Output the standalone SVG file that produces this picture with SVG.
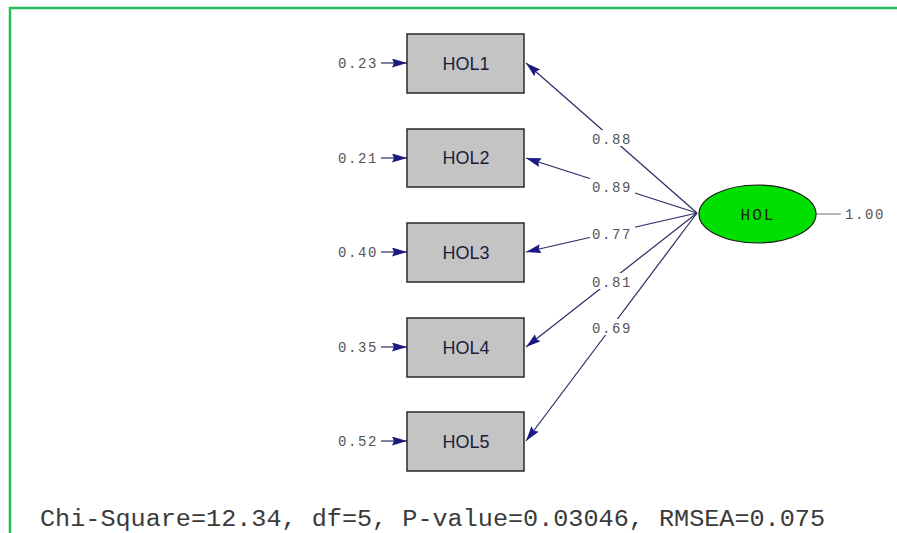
<svg xmlns="http://www.w3.org/2000/svg" width="897" height="533" viewBox="0 0 897 533">
<style>
.box{fill:#c4c4c4;stroke:#2a2a2a;stroke-width:1.5}
.bt{font-family:"Liberation Sans",Arial,sans-serif;font-size:18px;fill:#1c1c3c;text-anchor:middle}
.mono{font-family:"Liberation Mono","Courier New",monospace;fill:#555;}
.sm{font-size:14px;letter-spacing:1.6px}
.ln{stroke:#2a2a66;stroke-width:1.2;fill:none}
.lab{fill:#fff}
</style>
<defs>
<marker id="ah" markerUnits="userSpaceOnUse" markerWidth="16" markerHeight="10" refX="15" refY="4.5" orient="auto">
<path d="M0,0 L15,4.5 L0,9 L2,4.5 z" fill="#1a1a80"/>
</marker>
</defs>
<rect width="897" height="533" fill="#fff"/>
<path d="M10,533 V8 H897" fill="none" stroke="#1fbf5a" stroke-width="2.5"/>

<g id="connectors">
<line class="ln" x1="697" y1="213" x2="526" y2="63" marker-end="url(#ah)"/>
<line class="ln" x1="697" y1="213" x2="526" y2="158" marker-end="url(#ah)"/>
<line class="ln" x1="697" y1="213" x2="526" y2="252" marker-end="url(#ah)"/>
<line class="ln" x1="697" y1="213" x2="526" y2="347" marker-end="url(#ah)"/>
<line class="ln" x1="697" y1="213" x2="526" y2="441" marker-end="url(#ah)"/>
<line class="ln" x1="381" y1="63" x2="407" y2="63" marker-end="url(#ah)"/>
<line class="ln" x1="381" y1="158" x2="407" y2="158" marker-end="url(#ah)"/>
<line class="ln" x1="381" y1="252" x2="407" y2="252" marker-end="url(#ah)"/>
<line class="ln" x1="381" y1="347" x2="407" y2="347" marker-end="url(#ah)"/>
<line class="ln" x1="381" y1="441" x2="407" y2="441" marker-end="url(#ah)"/>
<line class="ln" x1="816" y1="214" x2="841" y2="214" style="stroke:#888"/>
<g class="mono sm" text-anchor="middle">
<rect class="lab" x="590" y="130" width="45" height="16"/>
<text x="612" y="144">0.88</text>
<rect class="lab" x="590" y="178" width="45" height="16"/>
<text x="612" y="192">0.89</text>
<rect class="lab" x="590" y="225" width="45" height="16"/>
<text x="612" y="239">0.77</text>
<rect class="lab" x="590" y="273" width="45" height="16"/>
<text x="612" y="287">0.81</text>
<rect class="lab" x="590" y="319" width="45" height="16"/>
<text x="612" y="333">0.69</text>
</g>
</g>

<g id="HOL1"><rect class="box" x="407" y="34" width="117" height="59"/><text class="bt" x="466" y="70">HOL1</text>
<text class="mono sm" x="378" y="68" text-anchor="end">0.23</text></g>
<g id="HOL2"><rect class="box" x="407" y="129" width="117" height="58"/><text class="bt" x="466" y="164">HOL2</text>
<text class="mono sm" x="378" y="163" text-anchor="end">0.21</text></g>
<g id="HOL3"><rect class="box" x="407" y="223" width="117" height="59"/><text class="bt" x="466" y="259">HOL3</text>
<text class="mono sm" x="378" y="257" text-anchor="end">0.40</text></g>
<g id="HOL4"><rect class="box" x="407" y="318" width="117" height="59"/><text class="bt" x="466" y="354">HOL4</text>
<text class="mono sm" x="378" y="352" text-anchor="end">0.35</text></g>
<g id="HOL5"><rect class="box" x="407" y="412" width="117" height="59"/><text class="bt" x="466" y="448">HOL5</text>
<text class="mono sm" x="378" y="446" text-anchor="end">0.52</text></g>

<g id="HOL"><ellipse cx="757.5" cy="214" rx="58.5" ry="29" fill="#00e000" stroke="#1a1a1a" stroke-width="1.2"/>
<text class="mono" x="758" y="220" text-anchor="middle" style="fill:#102010;font-size:16px;letter-spacing:2px">HOL</text>
<text class="mono sm" x="845" y="219">1.00</text></g>

<text class="mono" x="40" y="526" textLength="785" lengthAdjust="spacingAndGlyphs" style="fill:#3a3a3a;font-size:23px">Chi-Square=12.34, df=5, P-value=0.03046, RMSEA=0.075</text>
</svg>
